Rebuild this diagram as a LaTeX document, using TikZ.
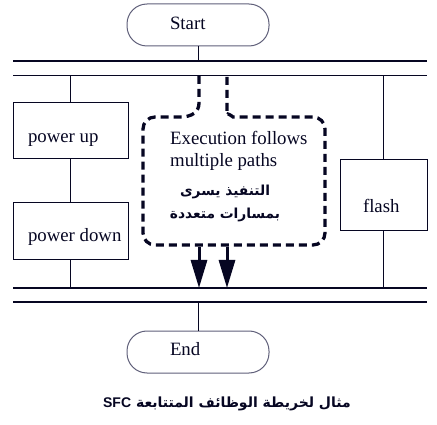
\documentclass[tikz,border=0pt]{standalone}
\usepackage{fontspec}
\setmainfont{Liberation Serif}
\newfontfamily\arabicfont[Script=Arabic]{DejaVu Sans}
\newfontfamily\libsans{Liberation Sans}
\TeXXeTstate=1
\usetikzlibrary{arrows.meta}
\definecolor{ink}{RGB}{6,6,34}
\definecolor{grayink}{RGB}{96,96,122}
% box text: left offset, drop below centre, box width, text
\newcommand\bxt[4]{\makebox[#3][l]{\hspace{#1}\raisebox{-#2}[0pt][0pt]{#4}}}
\begin{document}
\begin{tikzpicture}[x=1pt,y=1pt, color=ink, text=ink,
  term/.style={draw=grayink, line width=1pt, rounded corners=20pt, minimum width=142pt, minimum height=42pt, inner sep=0pt, font=\fontsize{18.8}{22}\selectfont},
  stepbox/.style={draw=ink, line width=1pt, inner sep=0pt, font=\fontsize{18.8}{22}\selectfont},
  bar/.style={line width=1.3pt, draw=ink},
  flow/.style={line width=1pt, draw=ink},
  dashpath/.style={line width=3.3pt, draw=ink, dash pattern=on 8pt off 5pt},
  bigarrow/.style={line width=3pt, draw=ink, fill=ink, -{Triangle[length=28pt,width=16pt]}}]
\useasboundingbox (0,0) rectangle (437,-425);
\fill[white] (0,0) rectangle (437,-425);
% bars
\coordinate (b1L) at (13,-61);   \coordinate (b1R) at (427,-61);
\coordinate (b2L) at (13,-75.5); \coordinate (b2R) at (427,-75.5);
\coordinate (b3L) at (13,-288);  \coordinate (b3R) at (427,-288);
\coordinate (b4L) at (13,-302);  \coordinate (b4R) at (427,-302);
\draw[bar] (b1L) -- (b1R);
\draw[bar] (b2L) -- (b2R);
\draw[bar] (b3L) -- (b3R);
\draw[bar] (b4L) -- (b4R);
% nodes
\node[term] (start) at (198,-25) {\bxt{43pt}{5pt}{142pt}{Start}};
\node[term] (end) at (198,-352) {\bxt{43pt}{3pt}{142pt}{End}};
\node[stepbox, minimum width=115pt, minimum height=56pt] (pu) at (70.5,-131) {\bxt{15pt}{12pt}{115pt}{power up}};
\node[stepbox, minimum width=115pt, minimum height=57pt] (pd) at (70.5,-231.5) {\bxt{15pt}{10.5pt}{115pt}{power down}};
\node[stepbox, minimum width=87pt, minimum height=71pt] (flash) at (383.5,-195.5) {\bxt{23pt}{17.5pt}{87pt}{flash}};
% connectors
\draw[flow] (start) -- (start |- b1L);
\draw[flow] (pu.north) -- (pu.north |- b2L);
\draw[flow] (pu) -- (pd);
\draw[flow] (pd.south) -- (pd.south |- b3L);
\draw[flow] (flash.north) -- (flash.north |- b2L);
\draw[flow] (flash.south) -- (flash.south |- b3L);
\draw[flow] (end) -- (end |- b4L);
% dashed region
\draw[dashpath] (199,-76) -- (199,-103) .. controls (199,-112) and (192,-117) .. (180,-117)
  [rounded corners=12pt] -- (143,-117) -- (143,-245) -- (325,-245) -- (325,-117) -- (245,-117)
  .. controls (233,-117) and (227,-112) .. (227,-103) -- (227,-76);
\coordinate (a1s) at (199,-247); \coordinate (a1e) at (199,-288);
\coordinate (a2s) at (227,-247); \coordinate (a2e) at (227,-288);
\draw[bigarrow] (a1s) -- (a1e);
\draw[bigarrow] (a2s) -- (a2e);
% texts
\node[anchor=base west, align=left, inner sep=0pt, font=\fontsize{18.8}{22}\selectfont] (ex) at (170,-167) {Execution follows\\multiple paths};
\node[align=center, inner sep=0pt, font=\arabicfont\bfseries\fontsize{13.8}{23}\selectfont] (ar) at (225,-203) {\beginR التنفيذ يسرى\endR\\\beginR بمسارات متعددة\endR};
\node[inner sep=0pt, font=\arabicfont\bfseries\fontsize{14}{18}\selectfont] (cap) at (227,-404) {\beginR مثال لخريطة الوظائف المتتابعة \beginL{\libsans\bfseries SFC}\endL\endR};
\end{tikzpicture}
\end{document}
